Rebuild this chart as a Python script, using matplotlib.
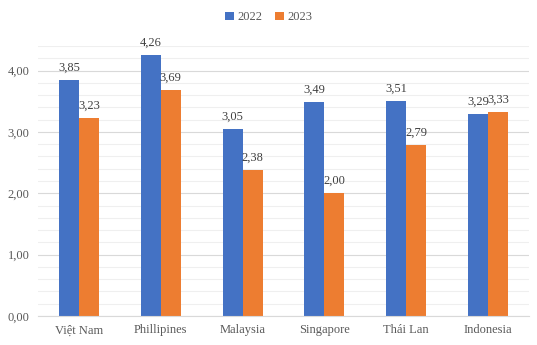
import matplotlib
matplotlib.use("Agg")
import matplotlib.pyplot as plt
import numpy as np
from matplotlib.ticker import MultipleLocator, FuncFormatter

categories = ["Việt Nam", "Phillipines", "Malaysia", "Singapore", "Thái Lan", "Indonesia"]
v2022 = [3.85, 4.26, 3.05, 3.49, 3.51, 3.29]
v2023 = [3.23, 3.69, 2.38, 2.00, 2.79, 3.33]
series_names = ["2022", "2023"]

plt.rcParams['font.family'] = ['Liberation Serif', 'DejaVu Serif']
txt = "#595959"

fig = plt.figure(figsize=(5.37, 3.45), dpi=100)
ax = fig.add_axes([38/537, 1-316/345, (529-38)/537, (316-46)/345])

x = np.arange(len(categories))
w = 0.245
b1 = ax.bar(x - w/2, v2022, w, color="#4472C4", label=series_names[0], zorder=3)
b2 = ax.bar(x + w/2, v2023, w, color="#ED7D31", label=series_names[1], zorder=3)

def fmt(v):
    return f"{v:.2f}".replace(".", ",")

for bars, vals in ((b1, v2022), (b2, v2023)):
    for r, v in zip(bars, vals):
        ax.text(r.get_x() + r.get_width()/2, v + 0.1, fmt(v), ha="center", va="bottom",
                fontsize=9, color="#404040")

ax.set_xlim(-0.5, len(categories) - 0.5)
ax.set_ylim(0, 4.4)
ax.yaxis.set_major_locator(MultipleLocator(1.0))
ax.yaxis.set_minor_locator(MultipleLocator(0.2))
ax.yaxis.set_major_formatter(FuncFormatter(lambda v, p: fmt(v)))
ax.grid(axis="y", which="minor", color="#EFEFEF", linewidth=0.8, zorder=0)
ax.grid(axis="y", which="major", color="#D9D9D9", linewidth=0.8, zorder=0)
ax.set_xticks(x)
ax.set_xticklabels(categories)
ax.tick_params(axis="both", which="both", length=0, colors=txt, labelsize=9)
ax.tick_params(axis="x", pad=6)
ax.tick_params(axis="y", pad=6)
for s in ("top", "right", "left"):
    ax.spines[s].set_visible(False)
ax.spines["bottom"].set_color("#D9D9D9")
ax.spines["bottom"].set_zorder(4)

fig.legend(loc="upper center", bbox_to_anchor=(0.5, 1.0), ncol=2, frameon=False,
           fontsize=9, labelcolor=txt, handlelength=0.7, handleheight=0.7,
           handletextpad=0.3, columnspacing=1.0)

fig.savefig("out.png", dpi=100)
